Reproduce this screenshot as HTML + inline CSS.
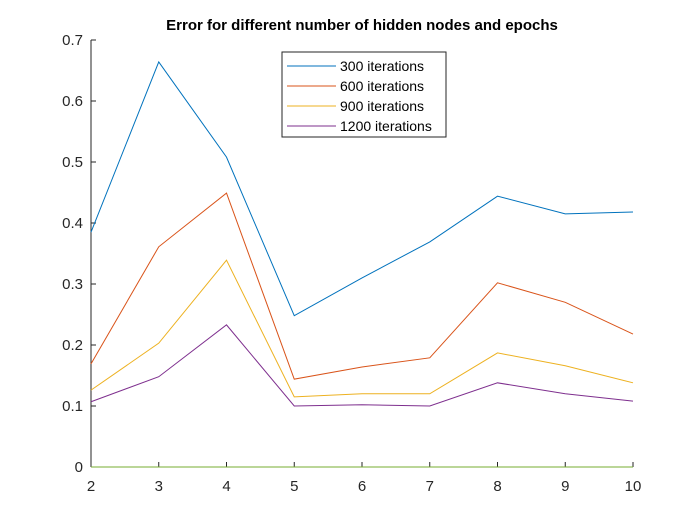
<!DOCTYPE html>
<html><head><meta charset="utf-8"><style>
html,body{margin:0;padding:0;background:#fff;}
svg{display:block;font-family:"Liberation Sans",Arial,sans-serif;}
</style></head><body>
<svg id="chart" width="700" height="525" viewBox="0 0 700 525">
<rect width="700" height="525" fill="#fff"/>
<text x="362" y="30" text-anchor="middle" font-size="15" font-weight="bold" fill="#000">Error for different number of hidden nodes and epochs</text>
<g id="axes"></g>
<g id="series"></g>
<g id="legend"></g>
</svg>
<script>
const xCats = [2,3,4,5,6,7,8,9,10];
const s300 = [0.385,0.664,0.508,0.248,0.31,0.369,0.444,0.415,0.418];
const s600 = [0.169,0.361,0.449,0.144,0.164,0.179,0.302,0.270,0.218];
const s900 = [0.126,0.203,0.339,0.115,0.12,0.12,0.187,0.166,0.138];
const s1200 = [0.107,0.148,0.233,0.1,0.102,0.1,0.138,0.12,0.108];
const sZero = [0,0,0,0,0,0,0,0,0];
const yTicks = [0,0.1,0.2,0.3,0.4,0.5,0.6,0.7];
const seriesNames = ["300 iterations","600 iterations","900 iterations","1200 iterations"];
const colors = ["#0072BD","#D95319","#EDB120","#7E2F8E","#77AC30"];
const NS="http://www.w3.org/2000/svg";
const L=91,R=633,T=40,B=467;
const xs=v=>L+(v-2)/8*(R-L);
const ys=v=>B-v/0.7*(B-T);
function mk(t,a,p){const e=document.createElementNS(NS,t);for(const k in a)e.setAttribute(k,a[k]);p.appendChild(e);return e;}
const ax=document.getElementById('axes');
const sg=document.getElementById('series');
const lg=document.getElementById('legend');
let yl=mk('line',{x1:L,y1:T,x2:L,y2:B,stroke:'#262626','stroke-width':1},ax);


let xl=mk('line',{x1:L,y1:B,x2:R,y2:B,stroke:'#262626','stroke-width':1},ax);


yTicks.forEach(v=>{
  mk('line',{x1:L,y1:ys(v),x2:L+5,y2:ys(v),stroke:'#262626'},ax);
  const t=mk('text',{x:L-8,y:ys(v)+5,'text-anchor':'end','font-size':15,fill:'#262626'},ax);
  t.textContent=v===0?'0':v.toFixed(1);
  
  
});
xCats.forEach(v=>{
  mk('line',{x1:xs(v),y1:B,x2:xs(v),y2:B-5,stroke:'#262626'},ax);
  const t=mk('text',{x:xs(v),y:B+24,'text-anchor':'middle','font-size':15,fill:'#262626'},ax);
  t.textContent=v;
  
  
});
const all=[s300,s600,s900,s1200,sZero];
const names=['series-300','series-600','series-900','series-1200','series-zero'];
all.forEach((s,i)=>{
  const p=mk('polyline',{points:s.map((v,j)=>xs(xCats[j])+','+ys(v)).join(' '),fill:'none',stroke:colors[i],'stroke-width':1},sg);
  
  
});
mk('rect',{x:282,y:52,width:164,height:85,fill:'#fff',stroke:'#262626','stroke-width':1},lg);
seriesNames.forEach((n,i)=>{
  const y=66+i*20;
  mk('line',{x1:287,y1:y,x2:336,y2:y,stroke:colors[i]},lg);
  const t=mk('text',{x:340,y:y+5,'font-size':14,fill:'#000'},lg);
  t.textContent=n;
  
  
});
</script>
</body></html>
